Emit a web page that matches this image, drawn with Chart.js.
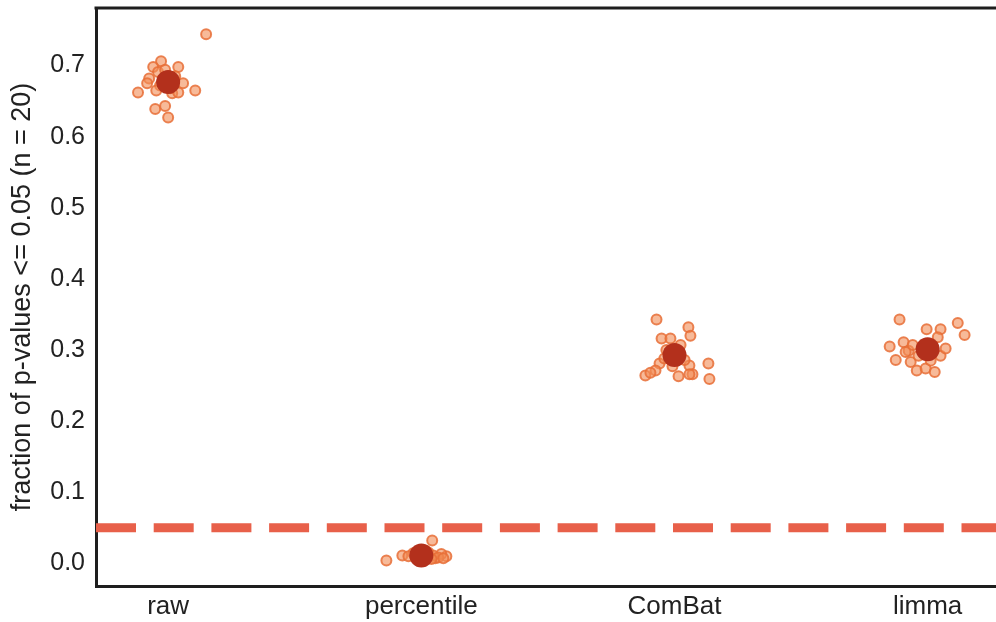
<!DOCTYPE html>
<html>
<head>
<meta charset="utf-8">
<script src="https://cdn.jsdelivr.net/npm/chart.js@4"></script>
<style>
  html, body { margin: 0; padding: 0; background: #ffffff; }
  canvas { display: block; }
</style>
</head>
<body>
<canvas id="grafico" width="996" height="622"></canvas>
<script>
// categorias e valores
const categorias = ['raw', 'percentile', 'ComBat', 'limma'];

// deslocamento horizontal (jitter) de cada ponto, em unidades de categoria
const jitterRaw = [0.150, -0.028, 0.040, -0.059, -0.075, 0.059, -0.119, 0.107, 0.016, -0.083,
                   -0.051, -0.012, 0.000, -0.040, -0.012, 0.028, -0.032, 0.008, 0.040, -0.047];
const valoresRaw = [0.744, 0.706, 0.698, 0.698, 0.682, 0.675, 0.662, 0.665, 0.661, 0.675,
                    0.639, 0.643, 0.627, 0.691, 0.694, 0.685, 0.672, 0.668, 0.662, 0.665];

const jitterPercentile = [-0.138, -0.075, 0.043, 0.055, 0.099, 0.079, -0.032, 0.008, 0.028, -0.016,
                          0.047, -0.051, 0.016, 0.067, -0.024, 0.040, 0.000, 0.087, 0.024, -0.008];
const valoresPercentile = [0.004, 0.011, 0.032, 0.007, 0.010, 0.013, 0.014, 0.008, 0.015, 0.007,
                           0.011, 0.010, 0.018, 0.008, 0.010, 0.006, 0.014, 0.007, 0.010, 0.004];

const jitterCombat = [-0.071, 0.055, 0.063, -0.051, -0.016, -0.059, -0.075, -0.115, 0.016, 0.059,
                      0.071, 0.134, 0.138, 0.059, -0.032, 0.024, -0.040, 0.040, -0.008, -0.095];
const valoresCombat = [0.343, 0.332, 0.320, 0.316, 0.316, 0.281, 0.271, 0.264, 0.263, 0.278,
                       0.266, 0.281, 0.259, 0.266, 0.300, 0.307, 0.288, 0.286, 0.277, 0.268];

const jitterLimma = [-0.111, -0.004, 0.051, 0.119, 0.146, -0.150, -0.095, -0.075, 0.051, -0.126,
                     -0.067, -0.043, -0.008, 0.028, 0.040, -0.059, -0.036, -0.087, 0.012, 0.071];
const valoresLimma = [0.343, 0.329, 0.329, 0.338, 0.321, 0.305, 0.311, 0.299, 0.292, 0.286,
                      0.283, 0.271, 0.274, 0.269, 0.318, 0.307, 0.292, 0.297, 0.285, 0.302];

// média de cada método (ponto grande)
const medias = [0.677, 0.011, 0.293, 0.301];

// linha de referência tracejada
const limiar = 0.05;

const ticksY = [0.0, 0.1, 0.2, 0.3, 0.4, 0.5, 0.6, 0.7];
const limitesX = [-0.285, 3.27];
const limitesY = [-0.032, 0.781];

// monta os pontos {x, y} a partir dos arrays
function montarPontos() {
    const jitters = [jitterRaw, jitterPercentile, jitterCombat, jitterLimma];
    const valores = [valoresRaw, valoresPercentile, valoresCombat, valoresLimma];
    const pontos = [];
    jitters.forEach((jit, i) => {
        jit.forEach((j, k) => pontos.push({ x: i + j, y: valores[i][k] }));
    });
    return pontos;
}

// zera o padding automático dos eixos para a área do gráfico ir até a borda
function semPadding(eixo) {
    eixo.paddingLeft = 0;
    eixo.paddingRight = 0;
    eixo.paddingTop = 0;
    eixo.paddingBottom = 0;
}

// moldura superior (o eixo de cima não existe no Chart.js)
const molduraTopo = {
    id: 'molduraTopo',
    afterDraw(chart) {
        const { ctx, chartArea } = chart;
        ctx.save();
        ctx.strokeStyle = '#1e1e1e';
        ctx.lineWidth = 3;
        ctx.beginPath();
        ctx.moveTo(chartArea.left - 1.5, chartArea.top);
        ctx.lineTo(chartArea.right, chartArea.top);
        ctx.stroke();
        ctx.restore();
    }
};

const familia = '"Liberation Sans", Arial, sans-serif';

new Chart(document.getElementById('grafico').getContext('2d'), {
    type: 'scatter',
    data: {
        datasets: [
            {
                label: 'média',
                data: medias.map((m, i) => ({ x: i, y: m })),
                backgroundColor: '#b3301c',
                borderColor: '#b3301c',
                borderWidth: 0,
                pointRadius: 12,
                order: 1
            },
            {
                label: 'amostras',
                data: montarPontos(),
                backgroundColor: 'rgba(242, 140, 85, 0.6)',
                borderColor: 'rgba(232, 110, 55, 0.85)',
                borderWidth: 2,
                pointRadius: 5,
                order: 2
            },
            {
                label: 'limiar',
                type: 'line',
                data: limitesX.map(x => ({ x: x, y: limiar })),
                borderColor: '#e8604a',
                borderWidth: 9,
                borderDash: [40, 17.7],
                borderCapStyle: 'butt',
                pointRadius: 0,
                order: 3
            }
        ]
    },
    options: {
        responsive: false,
        animation: false,
        layout: { autoPadding: false, padding: { top: 8, right: 0, left: 0, bottom: 0 } },
        plugins: {
            legend: { display: false },
            tooltip: { enabled: false }
        },
        scales: {
            x: {
                type: 'linear',
                min: limitesX[0],
                max: limitesX[1],
                afterBuildTicks: eixo => { eixo.ticks = categorias.map((c, i) => ({ value: i })); },
                afterFit: eixo => { eixo.height = 36; semPadding(eixo); },
                grid: { display: false, drawTicks: false },
                border: { display: true, color: '#1e1e1e', width: 3 },
                ticks: {
                    padding: 5,
                    color: '#222222',
                    font: { family: familia, size: 26 },
                    maxRotation: 0,
                    callback: v => categorias[v]
                }
            },
            y: {
                type: 'linear',
                min: limitesY[0],
                max: limitesY[1],
                afterBuildTicks: eixo => { eixo.ticks = ticksY.map(v => ({ value: v })); },
                afterFit: eixo => { eixo.width = 96; semPadding(eixo); },
                grid: { display: false, drawTicks: false },
                border: { display: true, color: '#1e1e1e', width: 3 },
                ticks: {
                    padding: 11,
                    color: '#222222',
                    font: { family: familia, size: 25 },
                    callback: v => v.toFixed(1)
                },
                title: {
                    display: true,
                    text: 'fraction of p-values <= 0.05 (n = 20)',
                    color: '#222222',
                    font: { family: familia, size: 27 },
                    padding: { top: 6, bottom: 0 }
                }
            }
        }
    },
    plugins: [molduraTopo]
});
</script>
</body>
</html>
